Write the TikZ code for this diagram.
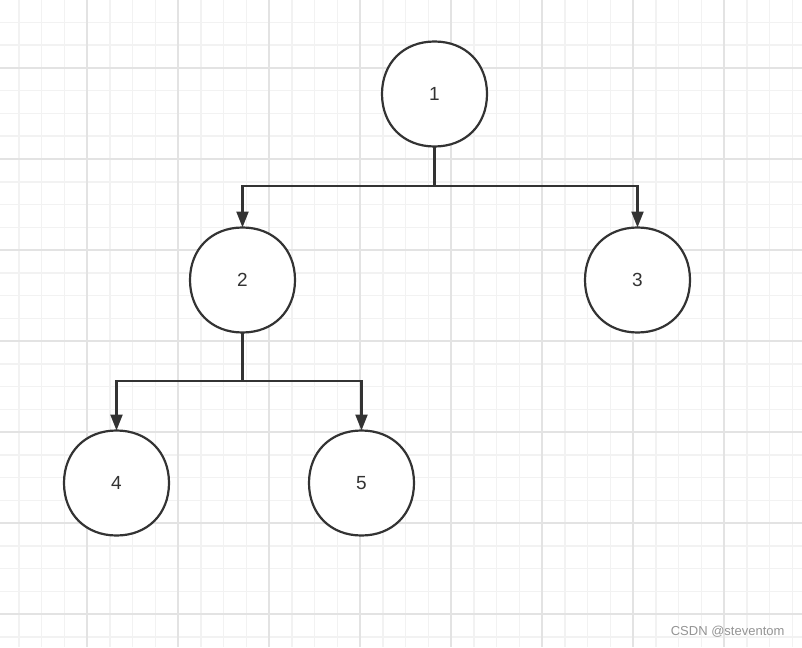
\documentclass[tikz,border=0pt]{standalone}
\usepackage{fontspec}
\setmainfont{Liberation Sans}
\usetikzlibrary{arrows.meta,calc,backgrounds}
\definecolor{ink}{HTML}{333333}
\definecolor{minorgrid}{HTML}{F2F2F2}
\definecolor{majorgrid}{HTML}{E3E3E3}
\tikzset{
  treenode/.style={rectangle, draw=none, minimum size=105pt, inner sep=0pt, outer sep=0pt, font=\fontsize{19pt}{22pt}\selectfont, text=ink},
  outline/.style={draw=ink, line width=2.2pt, fill=white},
  link/.style={draw=ink, line width=2.2pt, -{Triangle[length=16pt,width=12pt]}},
  trunk/.style={draw=ink, line width=2.2pt}
}
\newcommand\sqk{0.59}
\newcommand\squircle[1]{%
  \path[outline] (#1.west)
    .. controls ($(#1.west)!\sqk!(#1.north west)$) and ($(#1.north)!\sqk!(#1.north west)$) .. (#1.north)
    .. controls ($(#1.north)!\sqk!(#1.north east)$) and ($(#1.east)!\sqk!(#1.north east)$) .. (#1.east)
    .. controls ($(#1.east)!\sqk!(#1.south east)$) and ($(#1.south)!\sqk!(#1.south east)$) .. (#1.south)
    .. controls ($(#1.south)!\sqk!(#1.south west)$) and ($(#1.west)!\sqk!(#1.south west)$) .. (#1.west) -- cycle;}
\begin{document}
\begin{tikzpicture}[x=1pt,y=-1pt]
\useasboundingbox (0,0) rectangle (802,647);
\begin{pgfonlayer}{background}
\fill[white] (0,0) rectangle (802,647);
\foreach \i in {0,...,35} {
  \draw[minorgrid, line width=1.5pt] ({-4+22.75*\i},0) -- ({-4+22.75*\i},647);
}
\foreach \j in {0,...,29} {
  \draw[minorgrid, line width=1.5pt] (0,{-0.25+22.75*\j}) -- (802,{-0.25+22.75*\j});
}
\foreach \i in {0,...,8} {
  \draw[majorgrid, line width=1.5pt] ({-4+91*\i},0) -- ({-4+91*\i},647);
}
\foreach \j in {0,...,7} {
  \draw[majorgrid, line width=1.5pt] (0,{-23+91*\j}) -- (802,{-23+91*\j});
}
\end{pgfonlayer}
% nodes
\node[treenode] (n1) at (434.5,94) {1};
\node[treenode] (n2) at (242.5,280) {2};
\node[treenode] (n3) at (637.5,280) {3};
\node[treenode] (n4) at (116.5,483) {4};
\node[treenode] (n5) at (361.5,483) {5};
\begin{pgfonlayer}{background}
\squircle{n1}\squircle{n2}\squircle{n3}\squircle{n4}\squircle{n5}
\end{pgfonlayer}
% junctions
\coordinate (j1) at (434.5,186);
\coordinate (j2) at (242.5,381);
\draw[trunk] (n1.south) -- (j1);
\draw[link] (j1) -| (n2.north);
\draw[link] (j1) -| (n3.north);
\draw[trunk] (n2.south) -- (j2);
\draw[link] (j2) -| (n4.north);
\draw[link] (j2) -| (n5.north);
% watermark
\node[anchor=east, text=black!42, font=\fontsize{13pt}{15pt}\selectfont] (wm) at (788,632) {CSDN @steventom};
\end{tikzpicture}
\end{document}
